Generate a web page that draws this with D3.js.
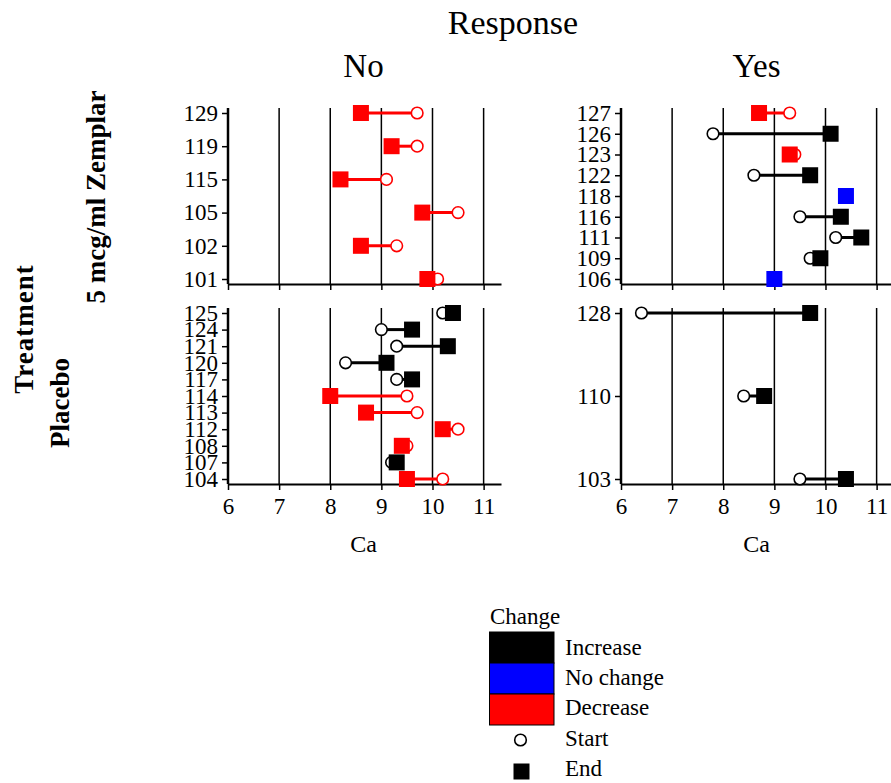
<!DOCTYPE html>
<html>
<head>
<meta charset="utf-8">
<script src="https://cdn.jsdelivr.net/npm/d3@7"></script>
<style>
  html, body { margin: 0; padding: 0; background: #fff; }
  svg { display: block; font-family: "Liberation Serif", "Times New Roman", serif; }
</style>
</head>
<body>
<svg id="chart" width="891" height="783"></svg>
<script>
// Facet labels
const responseLevels = ["No", "Yes"];
const treatmentLevels = ["5 mcg/ml Zemplar", "Placebo"];

// Subject IDs (top to bottom) and Ca at start / end, one set per facet
const zemplarNoIds   = ["129", "119", "115", "105", "102", "101"];
const zemplarNoStart = [9.7, 9.7, 9.1, 10.5, 9.3, 10.1];
const zemplarNoEnd   = [8.6, 9.2, 8.2, 9.8, 8.6, 9.9];

const zemplarYesIds   = ["127", "126", "123", "122", "118", "116", "111", "109", "106"];
const zemplarYesStart = [9.3, 7.8, 9.4, 8.6, 10.4, 9.5, 10.2, 9.7, 9.0];
const zemplarYesEnd   = [8.7, 10.1, 9.3, 9.7, 10.4, 10.3, 10.7, 9.9, 9.0];

const placeboNoIds   = ["125", "124", "121", "120", "117", "114", "113", "112", "108", "107", "104"];
const placeboNoStart = [10.2, 9.0, 9.3, 8.3, 9.3, 9.5, 9.7, 10.5, 9.5, 9.2, 10.2];
const placeboNoEnd   = [10.4, 9.6, 10.3, 9.1, 9.6, 8.0, 8.7, 10.2, 9.4, 9.3, 9.5];

const placeboYesIds   = ["128", "110", "103"];
const placeboYesStart = [6.4, 8.4, 9.5];
const placeboYesEnd   = [9.7, 8.8, 10.4];

// Legend entries
const changeLevels = ["Increase", "No change", "Decrease"];
const changeColors = ["#000000", "#0000ff", "#ff0000"];
const xTicks = [6, 7, 8, 9, 10, 11];

const facets = [
  { row: 0, col: 0, ids: zemplarNoIds,  start: zemplarNoStart,  end: zemplarNoEnd },
  { row: 0, col: 1, ids: zemplarYesIds, start: zemplarYesStart, end: zemplarYesEnd },
  { row: 1, col: 0, ids: placeboNoIds,  start: placeboNoStart,  end: placeboNoEnd },
  { row: 1, col: 1, ids: placeboYesIds, start: placeboYesStart, end: placeboYesEnd }
];

const svg = d3.select("#chart");

// Panel geometry
const colLeft = [228, 621];
const panelW = 273;
const rowTop = [108, 308];
const panelH = 176;
const pad = 5;

const color = d3.scaleOrdinal().domain(changeLevels).range(changeColors);
const changeOf = (s, e) => e > s ? "Increase" : (e < s ? "Decrease" : "No change");

facets.forEach(f => {
  const x0 = colLeft[f.col], y0 = rowTop[f.row];
  const x = d3.scaleLinear().domain([6, 11.34]).range([x0, x0 + panelW]);
  const y = d3.scalePoint().domain(f.ids).range([y0 + pad, y0 + panelH - pad]);
  const g = svg.append("g");

  // vertical grid lines
  g.selectAll("line.grid").data(xTicks.filter(t => t > 6)).join("line")
    .attr("x1", d => x(d)).attr("x2", d => x(d))
    .attr("y1", y0).attr("y2", y0 + panelH)
    .attr("stroke", "#000").attr("stroke-width", 1.5);

  // x axis
  const xa = g.append("g").attr("transform", `translate(0,${y0 + panelH})`)
    .call(d3.axisBottom(x).tickValues(xTicks).tickSize(6).tickSizeOuter(0)
      .tickFormat(f.row === 1 ? d3.format("d") : () => ""));
  xa.select(".domain").attr("stroke-width", 2);
  xa.selectAll(".tick line").attr("stroke-width", 1.5);
  xa.selectAll(".tick text").attr("font-size", 23).attr("font-family", "Liberation Serif")
    .attr("fill", "#000").attr("dy", "0.9em");

  // y axis
  const ya = g.append("g").attr("transform", `translate(${x0},0)`)
    .call(d3.axisLeft(y).tickSize(6).tickSizeOuter(0).tickPadding(4));
  ya.select(".domain").attr("stroke-width", 2.5).attr("d", `M0,${y0}V${y0 + panelH}`);
  ya.selectAll(".tick line").attr("stroke-width", 1.5);
  ya.selectAll(".tick text").attr("font-size", 23).attr("font-family", "Liberation Serif")
    .attr("fill", "#000");

  const rows = f.ids.map((id, i) => ({ id, s: f.start[i], e: f.end[i], c: changeOf(f.start[i], f.end[i]) }));

  // start-to-end segments
  g.selectAll("line.seg").data(rows).join("line")
    .attr("x1", d => x(d.s)).attr("x2", d => x(d.e))
    .attr("y1", d => y(d.id)).attr("y2", d => y(d.id))
    .attr("stroke", d => color(d.c)).attr("stroke-width", 3);

  // start points
  g.selectAll("circle.start").data(rows).join("circle")
    .attr("cx", d => x(d.s)).attr("cy", d => y(d.id)).attr("r", 5.8)
    .attr("fill", "#fff").attr("stroke", d => color(d.c)).attr("stroke-width", 1.6);

  // end points
  const sq = 16;
  g.selectAll("rect.end").data(rows).join("rect")
    .attr("x", d => x(d.e) - sq / 2).attr("y", d => y(d.id) - sq / 2)
    .attr("width", sq).attr("height", sq)
    .attr("fill", d => color(d.c));
});

// Titles
svg.append("text").attr("x", 513).attr("y", 34).attr("text-anchor", "middle")
  .attr("font-size", 34).text("Response");
responseLevels.forEach((lab, i) => {
  svg.append("text").attr("x", colLeft[i] + panelW / 2 - 1).attr("y", 77).attr("text-anchor", "middle")
    .attr("font-size", 33).text(lab);
  svg.append("text").attr("x", colLeft[i] + panelW / 2 - 1).attr("y", 552).attr("text-anchor", "middle")
    .attr("font-size", 24).text("Ca");
});

// Row strip labels
const rowLabelX = [105, 69];
treatmentLevels.forEach((lab, i) => {
  const cy = rowTop[i] + panelH / 2 + (i === 1 ? 7 : 1);
  svg.append("text").attr("transform", `translate(${rowLabelX[i]},${cy}) rotate(-90)`)
    .attr("text-anchor", "middle").attr("font-weight", "bold").attr("font-size", 27).text(lab);
});
svg.append("text").attr("transform", `translate(33,329) rotate(-90)`)
  .attr("text-anchor", "middle").attr("font-weight", "bold").attr("font-size", 27)
  .attr("letter-spacing", 1).text("Treatment");

// Legend
const lg = svg.append("g");
lg.append("text").attr("x", 490).attr("y", 624).attr("font-size", 23).text("Change");
changeLevels.forEach((lab, i) => {
  lg.append("rect").attr("x", 489.5).attr("y", 632 + i * 31).attr("width", 64.5).attr("height", 31)
    .attr("fill", color(lab)).attr("stroke", "#000").attr("stroke-width", 1);
  lg.append("text").attr("x", 565).attr("y", 655 + i * 30).attr("font-size", 23).text(lab);
});
lg.append("circle").attr("cx", 520.5).attr("cy", 740).attr("r", 5.8)
  .attr("fill", "#fff").attr("stroke", "#000").attr("stroke-width", 1.6);
lg.append("text").attr("x", 565).attr("y", 746).attr("font-size", 23).text("Start");
lg.append("rect").attr("x", 513.5).attr("y", 763.5).attr("width", 16).attr("height", 16).attr("fill", "#000");
lg.append("text").attr("x", 565).attr("y", 776).attr("font-size", 23).text("End");
</script>
</body>
</html>
